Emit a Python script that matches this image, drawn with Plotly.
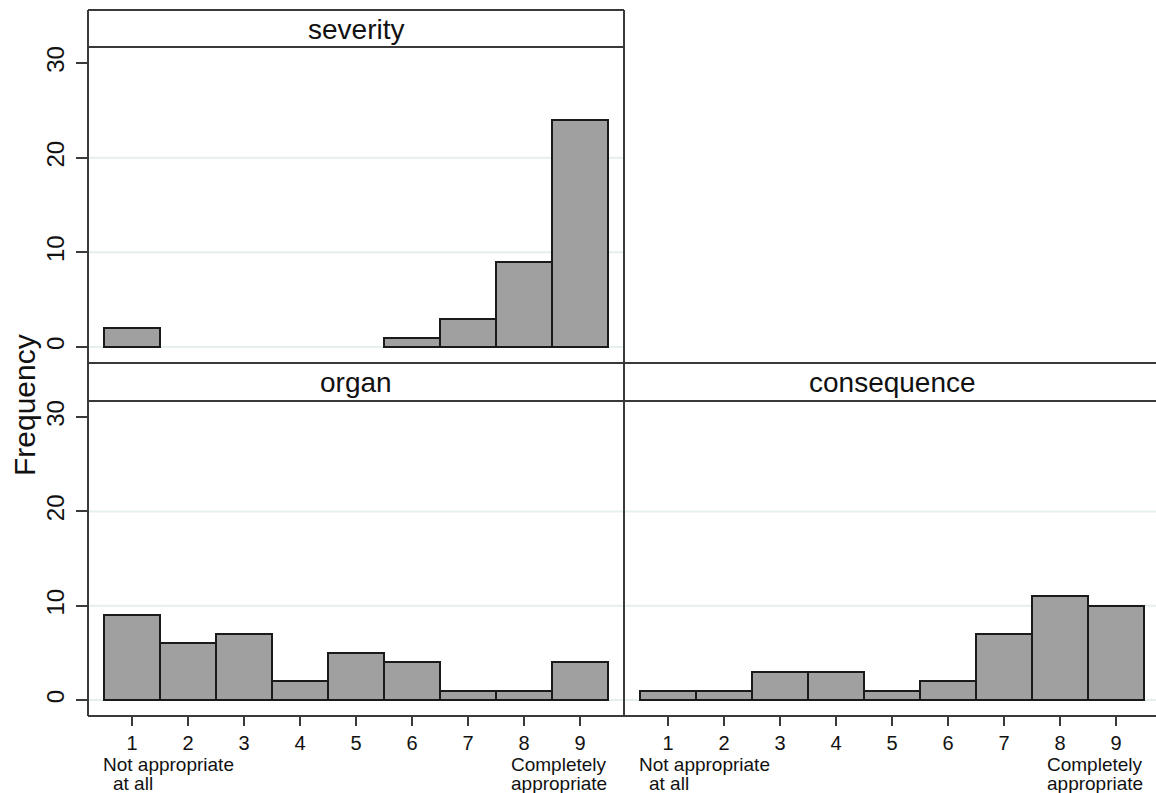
import plotly.graph_objects as go

# Rating scale and frequency of each rating per dimension
ratings = [1, 2, 3, 4, 5, 6, 7, 8, 9]
severity = [2, 0, 0, 0, 0, 1, 3, 9, 24]
organ = [9, 6, 7, 2, 5, 4, 1, 1, 4]
consequence = [1, 1, 3, 3, 1, 2, 7, 11, 10]

panel_titles = ["severity", "organ", "consequence"]
y_ticks = [0, 10, 20, 30]
grid_values = [0, 10, 20]
low_label = ["Not appropriate", "at all"]
high_label = ["Completely", "appropriate"]

W, H = 1156, 793
FONT = "Liberation Sans, Arial, Helvetica, sans-serif"
FRAME = "#3a3a3a"
BAR_FILL = "#a0a0a0"
BAR_EDGE = "#1a1a1a"
GRID = "#e6eff0"
TEXT = "#111111"


def px(x):
    return x / W


def py(y):
    return 1 - y / H


fig = go.Figure()

series = [severity, organ, consequence]
axes = [("x", "y"), ("x2", "y2"), ("x3", "y3")]
for vals, (xa, ya) in zip(series, axes):
    xs = [r for r, v in zip(ratings, vals) if v > 0]
    ys = [v for v in vals if v > 0]
    fig.add_trace(go.Bar(
        x=xs, y=ys, width=1, xaxis=xa, yaxis=ya,
        marker=dict(color=BAR_FILL, line=dict(color=BAR_EDGE, width=2)),
        showlegend=False, hoverinfo="x+y",
    ))

left_dom = [px(88), px(624)]
right_dom = [px(624), px(1156)]
top_dom = [py(363), py(47)]
bot_dom = [py(716), py(401)]
x_range_full = [0.214, 9.786]
x_range_right = [0.214, 0.214 + 532 / 56.0]
y_range = [-1.69, 31.7]

yaxis_common = dict(
    range=y_range, tickvals=y_ticks, ticks="outside", ticklen=11,
    tickwidth=1.5, tickcolor=FRAME, tickangle=-90, ticklabelstandoff=2,
    tickfont=dict(family=FONT, size=24, color=TEXT),
    showgrid=False, zeroline=False, showline=False, fixedrange=True,
)
xaxis_common = dict(
    tickvals=ratings, ticktext=[str(r) for r in ratings],
    ticks="outside", ticklen=9, tickwidth=1.5, tickcolor=FRAME,
    tickfont=dict(family=FONT, size=20, color=TEXT),
    showgrid=False, zeroline=False, showline=False, fixedrange=True,
)

fig.update_layout(
    width=W, height=H,
    margin=dict(l=0, r=0, t=0, b=0),
    paper_bgcolor="white", plot_bgcolor="white",
    bargap=0,
    xaxis=dict(xaxis_common, domain=left_dom, range=x_range_full,
               anchor="y", showticklabels=False, ticks=""),
    yaxis=dict(yaxis_common, domain=top_dom, anchor="x"),
    xaxis2=dict(xaxis_common, domain=left_dom, range=x_range_full, anchor="y2"),
    yaxis2=dict(yaxis_common, domain=bot_dom, anchor="x2"),
    xaxis3=dict(xaxis_common, domain=right_dom, range=x_range_right, anchor="y3"),
    yaxis3=dict(yaxis_common, domain=bot_dom, anchor="x3",
                showticklabels=False, ticks=""),
)

shapes = []
# faint horizontal grid lines
for xa, ya in axes:
    for g in grid_values:
        shapes.append(dict(type="line", xref=f"{xa} domain", yref=ya,
                           x0=0, x1=1, y0=g, y1=g,
                           line=dict(color=GRID, width=2), layer="below"))

# panel frames and header strips
frame_lines = [
    (88, 10, 88, 716),
    (624, 10, 624, 716),
    (88, 10, 624, 10),
    (88, 47, 624, 47),
    (88, 363, 1156, 363),
    (88, 401, 1156, 401),
    (88, 716, 1156, 716),
]
for x0, y0, x1, y1 in frame_lines:
    shapes.append(dict(type="line", xref="paper", yref="paper",
                       x0=px(x0), y0=py(y0), x1=px(x1), y1=py(y1),
                       line=dict(color=FRAME, width=2)))
fig.update_layout(shapes=shapes)

annotations = []
# header titles
header_pos = [((88 + 624) / 2, 29), ((88 + 624) / 2, 382), ((624 + 1160) / 2, 382)]
for title, (hx, hy) in zip(panel_titles, header_pos):
    annotations.append(dict(text=title, xref="paper", yref="paper",
                            x=px(hx), y=py(hy), showarrow=False,
                            xanchor="center", yanchor="middle",
                            font=dict(family=FONT, size=28, color=TEXT)))

# y axis title
annotations.append(dict(text="Frequency", xref="paper", yref="paper",
                        x=px(24), y=py(405), textangle=-90, showarrow=False,
                        xanchor="center", yanchor="middle",
                        font=dict(family=FONT, size=30, color=TEXT)))

# scale-end descriptors under ratings 1 and 9
for xa in ["x2", "x3"]:
    for line_text, shift, yy in [(low_label[0], -31, 764), (low_label[1], -21, 783)]:
        annotations.append(dict(text=line_text, xref=xa, yref="paper",
                                x=ratings[0], y=py(yy), xshift=shift,
                                showarrow=False, xanchor="left", yanchor="middle",
                                font=dict(family=FONT, size=19, color=TEXT)))
    for line_text, yy in [(high_label[0], 764), (high_label[1], 783)]:
        annotations.append(dict(text=line_text, xref=xa, yref="paper",
                                x=ratings[-1], y=py(yy), xshift=-71,
                                showarrow=False, xanchor="left", yanchor="middle",
                                font=dict(family=FONT, size=19, color=TEXT)))
fig.update_layout(annotations=annotations)

fig.write_html("out.html")
